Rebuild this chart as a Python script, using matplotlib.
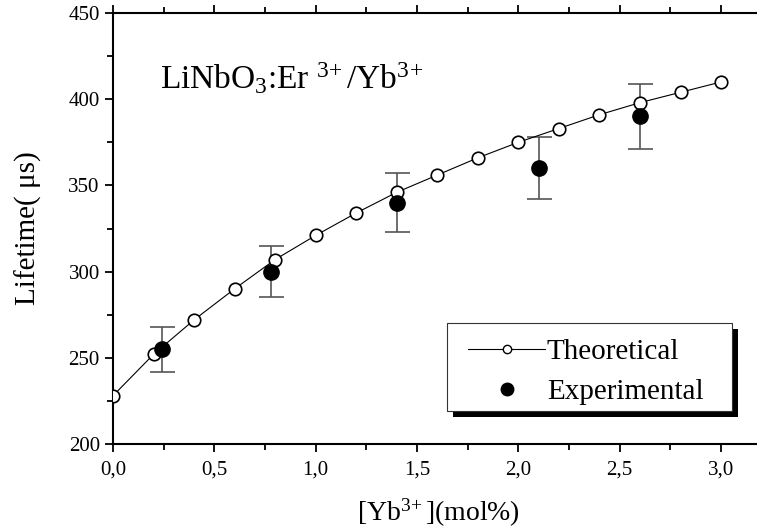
import matplotlib.pyplot as plt
from matplotlib.patches import Rectangle
from matplotlib.ticker import MultipleLocator, FixedLocator, FixedFormatter

plt.rcParams['font.family'] = ['Liberation Serif', 'DejaVu Serif']
plt.rcParams['mathtext.fontset'] = 'custom'
plt.rcParams['mathtext.rm'] = 'Liberation Serif'
plt.rcParams['mathtext.it'] = 'Liberation Serif'

# theoretical curve
x_theo = [0.0, 0.2, 0.4, 0.6, 0.8, 1.0, 1.2, 1.4, 1.6, 1.8, 2.0, 2.2, 2.4, 2.6, 2.8, 3.0]
y_theo = [228, 252, 272, 290, 307, 321, 334, 346, 356, 366, 375, 383, 391, 398, 404, 410]

# experimental points
x_exp = [0.24, 0.78, 1.40, 2.10, 2.60]
y_exp = [255, 300, 340, 360, 390]
err_exp = [13, 15, 17, 18, 19]

xticks = [0.0, 0.5, 1.0, 1.5, 2.0, 2.5, 3.0]
xticklabels = ['0,0', '0,5', '1,0', '1,5', '2,0', '2,5', '3,0']

W, H = 757, 530
fig = plt.figure(figsize=(W / 100, H / 100), dpi=100)
ax = fig.add_axes([113/W, 86/H, 1 - 113/W + 0.01, 431/H])

ax.errorbar(x_exp, y_exp, yerr=err_exp, fmt='none', ecolor='#555555',
            elinewidth=1.2, capsize=9, capthick=1.2, zorder=2)
ax.plot(x_theo, y_theo, '-', color='black', lw=0.8, marker='o', ms=9,
        mfc='white', mec='black', mew=1.2, zorder=3)
ax.plot(x_exp, y_exp, 'o', color='black', ms=11, zorder=4)

# legend proxies
h1, = ax.plot([], [], '-', color='black', lw=0.8, marker='o', ms=6,
              mfc='white', mec='black', mew=1.0)
h2, = ax.plot([], [], 'o', color='black', ms=9)
leg = ax.legend([h1, h2], ['Theoretical', 'Experimental'],
                loc='upper left', bbox_to_anchor=(468/W, (H - 339)/H),
                bbox_transform=fig.transFigure, fontsize=21, frameon=False,
                borderpad=0, borderaxespad=0,
                handlelength=2.65, handletextpad=0.05, labelspacing=0.45)
leg.set_zorder(7)

# legend box drawn by hand, with its black shadow
ax.add_patch(Rectangle((453/W, (H - 417)/H), 285/W, 88/H, transform=fig.transFigure,
                       facecolor='black', edgecolor='none', clip_on=False, zorder=5))
ax.add_patch(Rectangle((447/W, (H - 411)/H), 285/W, 88/H, transform=fig.transFigure,
                       facecolor='white', edgecolor='#333333', lw=0.8,
                       clip_on=False, zorder=6))

ax.set_xlim(0, 3.0 + 43/200.3)
ax.set_ylim(200, 450)
ax.xaxis.set_major_locator(FixedLocator(xticks))
ax.xaxis.set_major_formatter(FixedFormatter(xticklabels))
ax.xaxis.set_minor_locator(MultipleLocator(0.25))
ax.yaxis.set_major_locator(MultipleLocator(50))
ax.yaxis.set_minor_locator(MultipleLocator(25))

ax.spines['right'].set_visible(False)
for s in ['left', 'bottom', 'top']:
    ax.spines[s].set_linewidth(1.5)

ax.tick_params(axis='both', which='both', direction='out', width=1.3, labelsize=15)
ax.tick_params(which='major', length=6)
ax.tick_params(which='minor', length=4)
ax.tick_params(axis='x', top=True, which='both')
ax.tick_params(axis='x', which='major', pad=6)

ax.set_xlabel(r'[Yb$^{3\!+}$](mol%)', fontsize=20, labelpad=12)
ax.set_ylabel('Lifetime( μs)', fontsize=21, labelpad=19)

ax.text(0.23, 406, r'LiNbO$_3$:Er $^{3\!+}$/Yb$^{3\!+}$', fontsize=24)

fig.savefig('out.png', dpi=100)
